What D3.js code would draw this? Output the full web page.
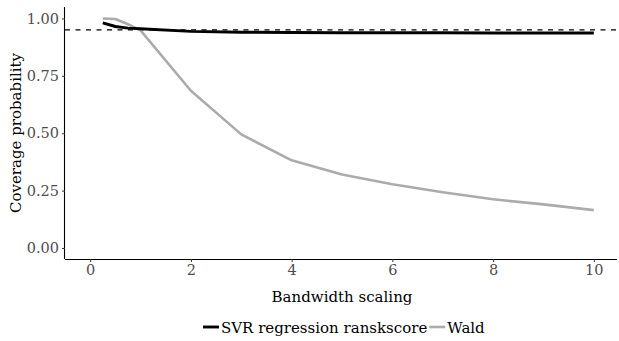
<!DOCTYPE html>
<html>
<head>
<meta charset="utf-8">
<script src="https://cdn.jsdelivr.net/npm/d3@7"></script>
<style>
  html, body { margin: 0; padding: 0; background: #fff; }
  svg { display: block; }
  text { font-family: "DejaVu Serif", serif; }
</style>
</head>
<body>
<svg id="chart" width="619" height="341"></svg>
<script>
// Bandwidth scaling factors and coverage for each interval method
const bandwidth = [0.25, 0.5, 0.75, 1, 2, 3, 4, 5, 6, 7, 8, 9, 10];
const svrCoverage = [0.981, 0.965, 0.958, 0.955, 0.944, 0.940, 0.939, 0.938, 0.938, 0.938, 0.937, 0.937, 0.937];
const waldCoverage = [1.0, 0.998, 0.975, 0.948, 0.685, 0.495, 0.382, 0.320, 0.278, 0.243, 0.212, 0.190, 0.165];
const nominalLevel = 0.95;

const xTicks = [0, 2, 4, 6, 8, 10];
const yTicks = [0, 0.25, 0.5, 0.75, 1];

const seriesNames = ["SVR regression ranskscore", "Wald"];
const seriesColors = ["#000000", "#ABABAB"];

const svg = d3.select("#chart");
const panel = { left: 65, right: 617, top: 7, bottom: 259 };

const x = d3.scaleLinear().domain([-0.5, 10.5]).range([panel.left, panel.left + 554]);
const y = d3.scaleLinear().domain([-0.048, 1.05]).range([panel.bottom, panel.top]);

// Reference line at the nominal coverage level
svg.append("line")
  .attr("x1", panel.left).attr("x2", 619)
  .attr("y1", y(nominalLevel)).attr("y2", y(nominalLevel))
  .attr("stroke", "#000").attr("stroke-width", 1.2)
  .attr("stroke-dasharray", "5,5.5");

const line = d3.line().x(d => x(d[0])).y(d => y(d[1]));
const series = [
  { name: seriesNames[1], color: seriesColors[1], width: 2.6, values: bandwidth.map((b, i) => [b, waldCoverage[i]]) },
  { name: seriesNames[0], color: seriesColors[0], width: 2.9, values: bandwidth.map((b, i) => [b, svrCoverage[i]]) }
];

svg.selectAll("path.series").data(series).join("path")
  .attr("class", "series")
  .attr("d", d => line(d.values))
  .attr("fill", "none")
  .attr("stroke", d => d.color)
  .attr("stroke-width", d => d.width)
  .attr("stroke-linejoin", "round");

// Axes
const xAxis = svg.append("g")
  .attr("transform", `translate(0,${panel.bottom})`)
  .call(d3.axisBottom(x).tickValues(xTicks).tickFormat(d3.format("d")).tickSize(3).tickPadding(3).tickSizeOuter(0));
xAxis.select(".domain").attr("d", `M${panel.left},0.5H${panel.right}`).attr("stroke", "#000").attr("stroke-width", 1.1);

const yAxis = svg.append("g")
  .attr("transform", `translate(${panel.left},0)`)
  .call(d3.axisLeft(y).tickValues(yTicks).tickFormat(d3.format(".2f")).tickSize(3).tickPadding(3).tickSizeOuter(0));
yAxis.select(".domain").attr("d", `M-0.5,${panel.top}V${panel.bottom}`).attr("stroke", "#000").attr("stroke-width", 1.1);

[xAxis, yAxis].forEach(a => {
  a.attr("font-family", null).attr("font-size", null);
  a.selectAll(".tick line").attr("stroke", "#333").attr("stroke-width", 1);
  a.selectAll(".tick text").attr("fill", "#4D4D4D").style("font-size", "14.5px");
});

// Axis titles
svg.append("text")
  .attr("x", (x(-0.5) + x(10.5)) / 2 + 0).attr("y", 302)
  .attr("text-anchor", "middle")
  .style("font-size", "15px").attr("fill", "#000")
  .text("Bandwidth scaling");

svg.append("text")
  .attr("transform", `translate(21,${(panel.top + panel.bottom) / 2}) rotate(-90)`)
  .attr("text-anchor", "middle")
  .style("font-size", "15px").attr("fill", "#000")
  .text("Coverage probability");

// Legend
const legend = svg.append("g").attr("transform", "translate(0,327)");
let lx = 203;
seriesNames.forEach((name, i) => {
  legend.append("line")
    .attr("x1", lx).attr("x2", lx + 16).attr("y1", 0).attr("y2", 0)
    .attr("stroke", seriesColors[i]).attr("stroke-width", i === 0 ? 2.9 : 2.6);
  const t = legend.append("text")
    .attr("x", lx + 18).attr("y", 5.5)
    .style("font-size", "15px").attr("fill", "#000")
    .text(name);
  lx += 18 + t.node().getComputedTextLength() + 2;
});
</script>
</body>
</html>
